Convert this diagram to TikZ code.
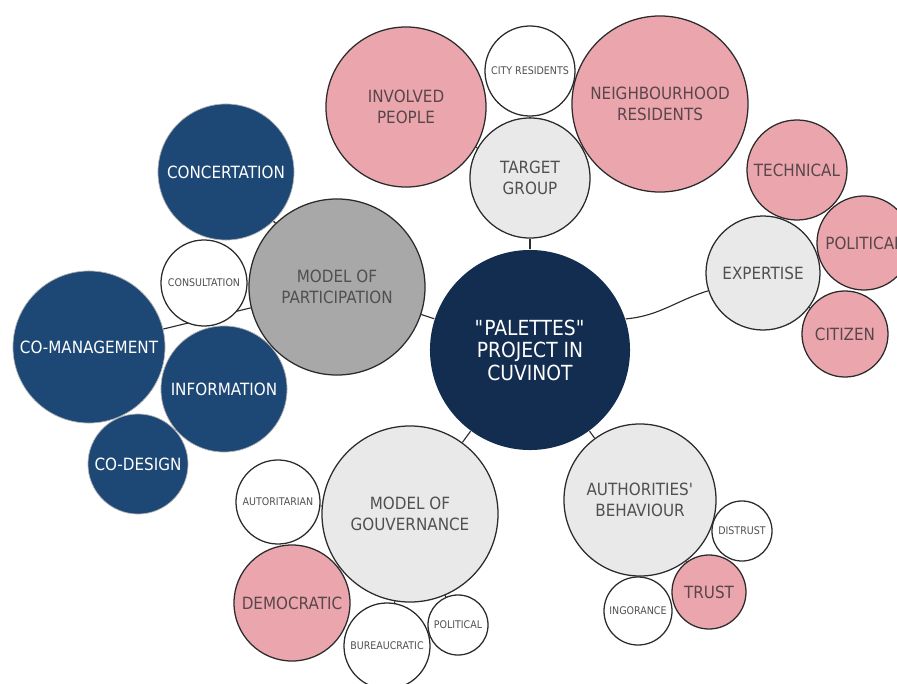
\documentclass[tikz,border=0pt]{standalone}
\usepackage{fontspec}
\setmainfont{DejaVu Sans}[FakeStretch=0.9]
\usetikzlibrary{backgrounds}
\definecolor{hubblue}{RGB}{19,45,80}
\definecolor{deepblue}{RGB}{29,72,118}
\definecolor{rosepink}{RGB}{235,166,173}
\definecolor{midgray}{RGB}{168,168,168}
\definecolor{palegray}{RGB}{233,233,233}
\definecolor{inkgray}{RGB}{43,43,43}
\definecolor{labelgray}{RGB}{80,80,80}
\definecolor{roselabel}{RGB}{88,70,74}
\newcommand{\bigfont}{\fontsize{12}{14.5}\selectfont}
\newcommand{\hubfont}{\fontsize{14.8}{16}\selectfont}
\newcommand{\leaffont}{\fontsize{7.5}{9}\selectfont}
\tikzset{
  bubble/.style={circle, draw=inkgray, line width=0.9pt, inner sep=0pt, align=center,
    minimum size=#1*0.05cm, text=labelgray, font=\bigfont},
  hub/.style={bubble=#1, fill=hubblue, draw=none, text=white, font=\hubfont},
  navybubble/.style={bubble=#1, fill=deepblue, draw=gray!60, line width=0.5pt, text=white},
  graybubble/.style={bubble=#1, fill=midgray},
  palebubble/.style={bubble=#1, fill=palegray},
  rosebubble/.style={bubble=#1, fill=rosepink, text=roselabel},
  leaf/.style={bubble=#1, fill=white, font=\leaffont},
  link/.style={draw=inkgray, line width=0.8pt}
}
\begin{document}
\begin{tikzpicture}[x=0.025cm, y=-0.025cm]
  \useasboundingbox (0,0) rectangle (897,684);
  \clip (0,0) rectangle (897,684);
  \node[hub=100] (palettes) at (530,350) {\textquotedbl PALETTES\textquotedbl\\PROJECT IN\\CUVINOT};

  \node[palebubble=60] (target) at (530,178) {TARGET\\GROUP};
  \node[leaf=45] (city) at (530,71) {CITY RESIDENTS};
  \node[rosebubble=80] (involved) at (406,107) {INVOLVED\\PEOPLE};
  \node[rosebubble=88] (neighbourhood) at (660,104) {NEIGHBOURHOOD\\RESIDENTS};

  \node[palebubble=57] (expertise) at (763,273) {EXPERTISE};
  \node[rosebubble=50] (technical) at (797,170) {TECHNICAL};
  \node[rosebubble=47] (politicalexp) at (864,243) {POLITICAL};
  \node[rosebubble=43] (citizen) at (845,334) {CITIZEN};

  \node[graybubble=88] (participation) at (337,287) {MODEL OF\\PARTICIPATION};
  \node[navybubble=68] (concertation) at (226,172) {CONCERTATION};
  \node[leaf=43] (consultation) at (204,283) {CONSULTATION};
  \node[navybubble=76] (comanagement) at (89,347) {CO-MANAGEMENT};
  \node[navybubble=63] (information) at (224,389) {INFORMATION};
  \node[navybubble=50] (codesign) at (138,464) {CO-DESIGN};

  \node[palebubble=88] (gouvernance) at (410,514) {MODEL OF\\GOUVERNANCE};
  \node[leaf=42] (autoritarian) at (278,502) {AUTORITARIAN};
  \node[rosebubble=58] (democratic) at (292,603) {DEMOCRATIC};
  \node[leaf=43] (bureaucratic) at (387,646) {BUREAUCRATIC};
  \node[leaf=30] (politicalgov) at (458,625) {POLITICAL};

  \node[palebubble=76] (authorities) at (640,500) {AUTHORITIES\textquotesingle\\BEHAVIOUR};
  \node[leaf=30] (distrust) at (742,531) {DISTRUST};
  \node[rosebubble=37] (trust) at (709,592) {TRUST};
  \node[leaf=34] (ingorance) at (638,611) {INGORANCE};

  \begin{scope}[on background layer]
    \draw[link] (palettes) to (target);
    \draw[link] (palettes) to (participation);
    \draw[link] (palettes) to (gouvernance);
    \draw[link] (palettes) to (authorities);
    \draw[link] (palettes.18) to[out=5, in=197] (expertise.198);
    \draw[link] (target) to (city);
    \draw[link] (target) to (involved);
    \draw[link] (target) to (neighbourhood);
    \draw[link] (expertise) to (technical);
    \draw[link] (expertise) to (politicalexp);
    \draw[link] (expertise) to (citizen);
    \draw[link] (participation) to (concertation);
    \draw[link] (participation) to (consultation);
    \draw[link] (participation) to (comanagement);
    \draw[link] (participation) to (information);
    \draw[link] (participation) to (codesign);
    \draw[link] (gouvernance) to (autoritarian);
    \draw[link] (gouvernance) to (democratic);
    \draw[link] (gouvernance) to (bureaucratic);
    \draw[link] (gouvernance) to (politicalgov);
    \draw[link] (authorities) to (distrust);
    \draw[link] (authorities) to (trust);
    \draw[link] (authorities) to (ingorance);
  \end{scope}
\end{tikzpicture}
\end{document}
